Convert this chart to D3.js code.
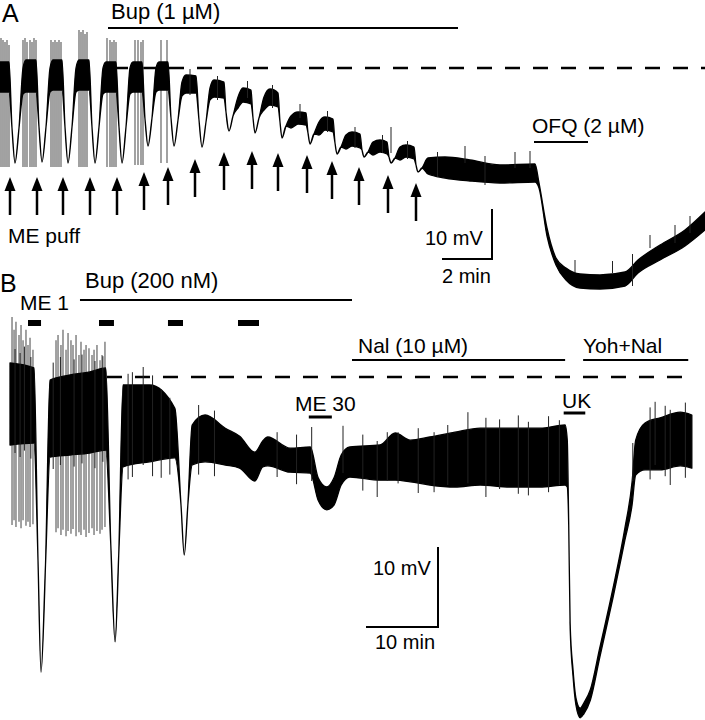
<!DOCTYPE html>
<html>
<head>
<meta charset="utf-8">
<script src="https://cdn.jsdelivr.net/npm/d3@7"></script>
<style>
  body { margin: 0; background: #fff; }
  svg { display: block; font-family: "Liberation Sans", Arial, sans-serif; }
</style>
</head>
<body>
<div class="chart-container"></div>
<script>
// ---- panel A : time in min, voltage in mV relative to control baseline ----
// trace envelope: [t, upper mV, lower mV]
let traceA = [
  [0, 1.2, -4.8], [0.36, 1.2, -4.8], [0.48, -12, -12], [0.6, -19, -19], [0.76, -12, -12], [0.92, 0, -5.2], [1.04, 1.6, -4.8],
  [1.44, 1.6, -4.8], [1.56, -11.8, -11.8], [1.68, -18.8, -18.8], [1.84, -11.8, -11.8], [2.0, 0, -4.8], [2.12, 1.6, -4.4],
  [2.48, 1.6, -4.4], [2.6, -11.8, -11.8], [2.72, -19, -19], [2.88, -11.8, -11.8], [3.04, 0, -4.8], [3.16, 1.6, -4.4],
  [3.56, 1.6, -4.4], [3.68, -11.8, -11.8], [3.8, -19, -19], [3.96, -11.8, -11.8], [4.12, 0, -5.2], [4.24, 1.2, -4.8],
  [4.64, 1.2, -4.8], [4.76, -11.8, -11.8], [4.88, -19, -19], [5.04, -11.8, -11.8], [5.2, 0, -5.2], [5.32, 1.2, -4.8],
  [5.68, 1.2, -4.8], [5.8, -10.2, -10.2], [5.92, -15.6, -15.6], [6.08, -10, -10], [6.24, 0, -4.8], [6.36, 1.2, -4.4],
  [6.72, 1.2, -4.4], [6.84, -10, -10], [6.96, -15.6, -15.6], [7.12, -10.4, -10.4], [7.28, -2.8, -5.6], [7.44, -1.4, -5],
  [7.84, -1.6, -5], [7.96, -10.4, -10.4], [8.08, -15.8, -15.8], [8.24, -10.8, -10.8], [8.4, -4, -6.4], [8.56, -2.4, -5.8],
  [8.96, -2.8, -6], [9.04, -8.8, -8.8], [9.16, -12.6, -12.6], [9.32, -9.6, -9.6], [9.52, -5.8, -8], [9.72, -4, -6.8],
  [10.04, -4.4, -7.2], [10.12, -10, -10], [10.2, -13, -13], [10.36, -10, -10], [10.56, -5.8, -8.4], [10.8, -4.2, -7.4],
  [11.12, -5, -7.8], [11.2, -10.8, -10.8], [11.28, -14, -14], [11.44, -11.6, -11.6], [11.64, -9.6, -12], [11.92, -8.8, -11.2],
  [12.24, -9, -11.4], [12.32, -13, -13], [12.4, -15.2, -15.2], [12.56, -13.2, -13.2], [12.76, -10.8, -13.4], [13.0, -9.8, -12.4],
  [13.32, -10.2, -12.8], [13.4, -15, -15], [13.48, -17.2, -17.2], [13.64, -15.8, -15.8], [13.84, -13.4, -16.2], [14.08, -12.8, -15.6],
  [14.4, -13.2, -16], [14.48, -16.4, -16.4], [14.56, -17.8, -17.8], [14.72, -16.8, -16.8], [14.92, -14.8, -17.4], [15.2, -14.4, -16.8],
  [15.48, -14.8, -17.2], [15.56, -17.8, -17.8], [15.64, -19, -19], [15.8, -18, -18], [16.0, -15.8, -18.4], [16.24, -15.4, -17.8],
  [16.56, -15.8, -18.2], [16.64, -19.4, -19.4], [16.72, -20.8, -20.8], [16.88, -20, -20], [17.12, -18, -21.2],
  [17.8, -17.8, -22], [18.8, -18.4, -22.6], [20.0, -19.4, -23], [21.4, -19.2, -22.8],
  [21.56, -23, -24], [21.88, -32, -33.6], [22.24, -38, -39.4], [22.64, -40, -42.4], [23.2, -41.2, -44],
  [24.0, -41.4, -44.2], [25.0, -40.8, -43.6], [25.52, -38.4, -41], [26.4, -35.4, -38.4], [27.4, -32.4, -35.6], [28.2, -28.8, -32.4]
]

// action potentials: [t, peak mV, trough mV]
let spikesA = [
  [0.04, 6, -19.8], [0.12, 5.6, -19.8], [0.2, 5.2, -19.8], [0.28, 5.6, -19.8], [0.36, 4.6, -19.8],
  [0.92, 5.6, -19.8], [1.0, 6, -19.8], [1.08, 5.2, -19.8], [1.2, 5.6, -19.8], [1.28, 5.2, -19.8], [1.36, 6, -19.8], [1.44, 5.6, -19.8],
  [2.04, 5.6, -19.8], [2.12, 5.2, -19.8], [2.2, 5.6, -19.8], [2.28, 5.2, -19.8], [2.36, 5.6, -19.8], [2.44, 5.2, -19.8],
  [3.16, 7.6, -19.8], [3.24, 7.2, -19.8], [3.32, 7.6, -19.8], [3.4, 6.8, -19.8], [3.48, 7.2, -19.8],
  [4.28, 6, -19.8], [4.4, 5.6, -19.8], [4.48, 5.2, -19.8], [4.56, 5.6, -19.8], [4.64, 5.2, -19.8],
  [5.4, 5.6, -19.4], [5.52, 5.6, -19.4], [5.64, 5.2, -19.4], [5.72, 5.6, -19.4],
  [6.44, 5.6, -19], [6.68, 5.6, -19]
]

// small noise transients: [t, top mV, bottom mV]
let blipsA = [
  [7.6, -0.2, -5.4], [8.7, -1.6, -6.4], [9.9, -2.6, -6], [10.9, -3.4, -8], [12.0, -7.2, -10], [13.1, -8.6, -12.8],
  [14.2, -11.8, -16], [15.3, -13.4, -17], [15.64, -11.8, -17], [16.3, -14.6, -18.2], [17.5, -16.8, -21.8], [18.6, -15.6, -19],
  [19.4, -17.6, -23.4], [20.6, -16.8, -20], [21.2, -16.6, -20], [23.0, -38.4, -41], [24.5, -38.6, -41],
  [25.3, -37.2, -43.6], [26.0, -33.4, -36], [27.0, -31.4, -35], [27.6, -29.6, -33]
]

let puffTimesA = [0.4, 1.48, 2.52, 3.6, 4.68, 5.76, 6.72, 7.8, 8.96, 10.08, 11.12, 12.28, 13.28, 14.36, 15.52, 16.64]
let puffTipsA = [-21.8, -21.8, -21.8, -21.8, -21.8, -20.8, -19.8, -18.2, -16.8, -16.6, -17, -17.4, -18.6, -19.8, -21.4, -23]

let bupA = [4.32, 18.32]
let ofqA = [21.36, 23.52]
let baselineA = [4.52, 28.2]

// ---- panel B ----
let traceB = [
  [0, 1.75, -8.5], [3.33, 1.13, -8.25], [3.89, -22.9, -22.9], [4.31, -36.9, -36.9], [4.93, -23.5, -23.5],
  [5.56, -0.38, -10], [8.33, 0.25, -9.75], [11.1, 0.63, -9.5], [13.3, 1.13, -9.13],
  [14.0, -21, -21], [14.6, -33.1, -33.1], [15.1, -22.25, -22.25],
  [15.7, -1, -11.25], [19.4, -1, -10.6], [22.9, -3.9, -10.1],
  [23.75, -16, -16], [24.2, -22.25, -22.25], [24.7, -16, -16],
  [25.3, -6, -11], [27.1, -4.75, -10.6], [29.9, -6.4, -11], [31.9, -7.4, -11.4],
  [34.0, -9.4, -13], [35.1, -8, -11.25], [35.8, -7.5, -11.1], [38.9, -8.9, -11.9], [41.7, -8.75, -12],
  [42.8, -12.6, -15.4], [44.0, -13.75, -16.6], [45.0, -12.6, -16], [46.0, -9.75, -13.5], [47.2, -8.75, -12.5],
  [51.4, -8.5, -12.9], [53.5, -7, -12.9], [55.6, -7.9, -13.1], [58.3, -7.5, -13.5], [61.8, -6.9, -13.75],
  [65.3, -6.4, -13.5], [69.4, -6.4, -13.75], [73.6, -6.4, -13.75], [77.1, -6, -13.5],
  [77.4, -7.9, -13.75], [77.6, -18.4, -18.6], [77.8, -30.9, -31.4], [78.2, -36.6, -37.4], [78.6, -40.1, -41],
  [79.2, -41.4, -42.6], [79.7, -40.75, -42.1], [80.6, -39.1, -40.4], [81.9, -33.9, -35.1], [83.75, -26.4, -27.6],
  [85.4, -18.9, -20.4], [86.4, -13.1, -16], [86.9, -7.9, -12.25], [88.2, -5.75, -11.6],
  [90.3, -5.1, -11.6], [93.1, -4.4, -11.1], [94.7, -4.75, -11.4]
]

let spikesB = [
  [0.28, 7.5, -18.5], [0.56, 5.9, -17.9], [0.83, 6.9, -18.75], [1.25, 5.25, -18.1], [1.53, 6.5, -18.9],
  [1.81, 4.6, -17.9], [2.22, 5.9, -18.6], [2.5, 4, -18.1], [2.78, 4.9, -18.75], [3.19, 3.4, -18.4],
  [6.39, 4.6, -19.4], [6.67, 5.25, -18.9], [7.08, 4, -19.75], [7.36, 5.9, -19.1], [7.78, 3.4, -19.9],
  [8.06, 5.5, -19.25], [8.47, 4.6, -19.6], [8.75, 4, -19], [9.17, 5.25, -19.9], [9.58, 2.75, -19.4],
  [9.86, 4.4, -19.75], [10.28, 3.4, -19.1], [10.56, 4, -20], [10.97, 3.6, -19.5], [11.39, 2.75, -18.9],
  [11.67, 3.4, -19.75], [12.08, 4, -19.25], [12.5, 2.1, -19.6], [12.78, 2.75, -19.1], [13.19, 4.4, -18.75]
]

let blipsB = [
  [0.7, 3.5, -9.5], [1.4, 3.0, -10], [2.0, 3.8, -9.2], [2.9, 2.5, -10.2], [6.0, 1.8, -11.5], [7.0, 2.5, -11],
  [8.9, 2.2, -11.2], [10.0, 2.8, -10.8], [11.8, 2.0, -11.4], [12.9, 2.6, -10.6],
  [16.4, 0.4, -12.8], [17.0, 0.6, -12.5], [18.5, 1.25, -11], [19.8, 0.2, -12.4], [21.0, -1.5, -12.6], [22.2, -2.6, -12.2],
  [26.2, -3.5, -12.2], [28.4, -4.2, -12.4], [37.1, -6.9, -12.5], [39.8, -7.2, -13.4],
  [41.9, -6.25, -13], [46.25, -6.1, -12], [49.0, -7.2, -14.2], [51.0, -8, -15], [52.4, -6.9, -13], [53.9, -6.9, -13.3],
  [56.7, -6.4, -14.5], [58.9, -6.9, -14.4], [60.8, -6, -13.5], [63.6, -4.4, -13.3], [66.1, -5.1, -15], [68.0, -5.3, -14],
  [70.6, -4.8, -14.6], [72.0, -5.6, -14.8], [74.8, -4.9, -14.4], [76.3, -5.4, -13.5], [86.5, -8.25, -13],
  [88.9, -3.8, -12.8], [89.6, -3.1, -11], [91.0, -3.6, -12.4], [91.7, -4.1, -13.5], [93.8, -3.2, -12.6]
]

let meBarsB = [[2.5, 4.31], [12.36, 14.44], [21.94, 24.03], [31.67, 34.58]]
let bupB = [9.72, 47.5]
let nalB = [47.5, 77.1]
let yohB = [79.6, 94.2]
let me30B = [41.5, 44.7]
let ukB = [76.9, 79.9]
let baselineB = [13.47, 94.7]

let width = 705,
    height = 720

let svg = d3.select('.chart-container')
  .append('svg')
  .attr('width', width)
  .attr('height', height)

// scales: A 25 px/min, 5 px/mV ; B 7.2 px/min, 8 px/mV
let xA = d3.scaleLinear().domain([0, 28.2]).range([0, 705])
let yA = d3.scaleLinear().domain([0, -10]).range([68, 118])
let xB = d3.scaleLinear().domain([0, 10]).range([10, 82])
let yB = d3.scaleLinear().domain([0, -10]).range([377, 457])

function drawTrace (g, x, y, trace, spikes, blips) {
  g.selectAll('.spike')
    .data(spikes)
    .enter()
    .append('line')
    .attr('class', 'spike')
    .attr('x1', d => x(d[0]))
    .attr('x2', d => x(d[0]))
    .attr('y1', d => y(d[1]))
    .attr('y2', d => y(d[2]))
    .attr('stroke', '#555')
    .attr('stroke-width', 1.1)

  let area = d3.area()
    .x(d => x(d[0]))
    .y0(d => y(d[2]))
    .y1(d => y(d[1]))
    .curve(d3.curveMonotoneX)

  g.append('path')
    .datum(trace)
    .attr('d', area)
    .attr('fill', '#000')
    .attr('stroke', '#000')
    .attr('stroke-width', 1.3)
    .attr('stroke-linejoin', 'round')

  g.selectAll('.blip')
    .data(blips)
    .enter()
    .append('line')
    .attr('class', 'blip')
    .attr('x1', d => x(d[0]))
    .attr('x2', d => x(d[0]))
    .attr('y1', d => y(d[1]))
    .attr('y2', d => y(d[2]))
    .attr('stroke', '#222')
    .attr('stroke-width', 1)
}

function hbar (x, x0, x1, yPos, w) {
  svg.append('line')
    .attr('x1', x(x0)).attr('x2', x(x1))
    .attr('y1', yPos).attr('y2', yPos)
    .attr('stroke', '#000')
    .attr('stroke-width', w)
}

function label (txt, xPos, yPos, size) {
  svg.append('text')
    .attr('x', xPos)
    .attr('y', yPos)
    .attr('font-size', size || 21)
    .attr('fill', '#000')
    .text(txt)
}

function dashed (x, y, range) {
  svg.append('line')
    .attr('x1', x(range[0])).attr('x2', x(range[1]))
    .attr('y1', y(0)).attr('y2', y(0))
    .attr('stroke', '#000')
    .attr('stroke-width', 2.5)
    .attr('stroke-dasharray', '15,13')
}

// ---------- panel A ----------
dashed(xA, yA, baselineA)
drawTrace(svg.append('g'), xA, yA, traceA, spikesA, blipsA)

let arrows = svg.append('g')
puffTimesA.forEach((t, i) => {
  let ax = xA(t), ay = yA(puffTipsA[i])
  arrows.append('line')
    .attr('x1', ax).attr('x2', ax)
    .attr('y1', ay + 8).attr('y2', ay + 38)
    .attr('stroke', '#000')
    .attr('stroke-width', 2.5)
  arrows.append('path')
    .attr('d', `M${ax},${ay} L${ax - 5.5},${ay + 14} L${ax + 5.5},${ay + 14} Z`)
    .attr('fill', '#000')
})

hbar(xA, bupA[0], bupA[1], 28, 2)
hbar(xA, ofqA[0], ofqA[1], 142, 2)
label('A', 2, 22, 25)
label('Bup (1 µM)', 111, 19, 22)
label('OFQ (2 µM)', 532, 133)
label('ME puff', 8, 243)

// scale bar A: 10 mV, 2 min
let sbA = svg.append('g')
sbA.append('path')
  .attr('d', `M${492},${259 - (yA(-10) - yA(0))} V259 H${492 - (xA(2) - xA(0))}`)
  .attr('fill', 'none')
  .attr('stroke', '#000')
  .attr('stroke-width', 2)
label('10 mV', 425, 245, 20)
label('2 min', 442, 283, 20)

// ---------- panel B ----------
dashed(xB, yB, baselineB)
drawTrace(svg.append('g'), xB, yB, traceB, spikesB, blipsB)

meBarsB.forEach(b => hbar(xB, b[0], b[1], 323, 6))
hbar(xB, bupB[0], bupB[1], 300, 2)
hbar(xB, nalB[0], nalB[1], 360, 2)
hbar(xB, yohB[0], yohB[1], 360, 2)
hbar(xB, me30B[0], me30B[1], 417, 3)
hbar(xB, ukB[0], ukB[1], 413, 3)

label('B', 0, 292, 25)
label('Bup (200 nM)', 85, 288, 22)
label('ME 1', 20, 310)
label('Nal (10 µM)', 358, 353)
label('Yoh+Nal', 583, 353)
label('ME 30', 295, 411)
label('UK', 562, 408)

// scale bar B: 10 mV, 10 min
let sbB = svg.append('g')
sbB.append('path')
  .attr('d', `M${438},${627 - (yB(-10) - yB(0))} V627 H${438 - (xB(10) - xB(0))}`)
  .attr('fill', 'none')
  .attr('stroke', '#000')
  .attr('stroke-width', 2)
label('10 mV', 373, 575, 20)
label('10 min', 375, 649, 20)
</script>
</body>
</html>
